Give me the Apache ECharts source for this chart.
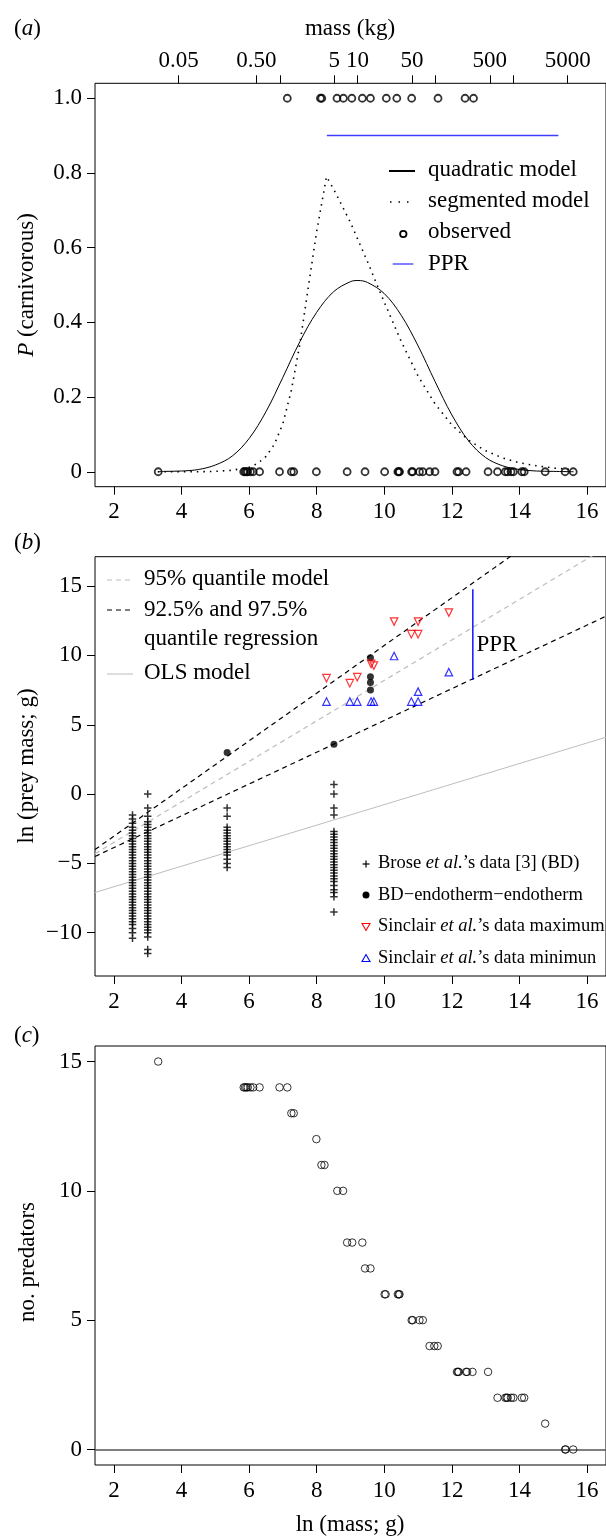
<!DOCTYPE html>
<html>
<head>
<meta charset="utf-8">
<script src="https://cdn.jsdelivr.net/npm/echarts@6/dist/echarts.min.js"></script>
<style>
html, body { margin: 0; padding: 0; background: #fff; }
#chart { width: 606px; height: 1537px; }
</style>
</head>
<body>
<div id="chart"></div>
<script>
// ---------- data ----------
const lnMassTicks = [2, 4, 6, 8, 10, 12, 14, 16];
const massTicksKg = [0.05, 0.5, 1, 5, 10, 50, 100, 500, 1000, 5000];
const massTickLabels = ['0.05', '0.50', '', '5', '10', '50', '', '500', '', '5000'];

// panel (a)
const quadX = [3.3, 3.5, 4.0, 4.5, 5.0, 5.5, 6.0, 6.5, 7.0, 7.5, 8.0, 8.5, 9.0, 9.22, 9.5, 10.0, 10.5, 11.0, 11.5, 12.0, 12.5, 13.0, 13.5, 14.0, 14.5, 15.0, 15.6];
const quadP = [0.000, 0.001, 0.002, 0.006, 0.018, 0.042, 0.089, 0.161, 0.253, 0.348, 0.427, 0.482, 0.509, 0.512, 0.507, 0.477, 0.419, 0.337, 0.242, 0.152, 0.082, 0.038, 0.016, 0.006, 0.002, 0.001, 0.000];
const segX = [3.3, 4.0, 4.5, 5.0, 5.5, 6.0, 6.25, 6.5, 6.75, 7.0, 7.25, 7.5, 7.75, 8.0, 8.29, 8.5, 9.0, 9.5, 10.0, 10.5, 11.0, 11.5, 12.0, 12.5, 13.0, 13.5, 14.0, 14.5, 15.0, 15.6];
const segP = [0.000, 0.000, 0.000, 0.001, 0.004, 0.012, 0.022, 0.041, 0.074, 0.129, 0.218, 0.341, 0.493, 0.644, 0.790, 0.757, 0.667, 0.563, 0.454, 0.349, 0.256, 0.182, 0.125, 0.084, 0.056, 0.037, 0.024, 0.016, 0.010, 0.006];
const carnX = [7.13, 8.11, 8.15, 8.60, 8.79, 9.04, 9.35, 9.59, 10.06, 10.37, 10.81, 11.59, 12.39, 12.64];
const nonCarnX = [3.31, 5.84, 5.88, 5.92, 5.96, 6.04, 6.12, 6.31, 6.90, 7.25, 7.32, 7.99, 8.90, 9.43, 10.01, 10.40, 10.43, 10.45, 10.81, 10.84, 11.04, 11.14, 11.34, 11.50, 12.15, 12.20, 12.42, 13.07, 13.35, 13.58, 13.65, 13.75, 13.82, 14.07, 14.14, 14.76, 15.35, 15.59];
const pprAX = [8.30, 15.15];
const pprAY = [0.9, 0.9];

// panel (b)
const broseX = [2.55, 3.0, 5.35, 8.51];
const broseY1 = [-1.5, -1.8, -2.1, -2.4, -2.6, -2.8, -3.0, -3.2, -3.4, -3.6, -3.8, -4.0, -4.2, -4.4, -4.6, -4.8, -5.0, -5.2, -5.4, -5.6, -5.8, -6.0, -6.2, -6.4, -6.6, -6.8, -7.0, -7.2, -7.4, -7.6, -7.8, -8.0, -8.2, -8.4, -8.6, -8.8, -9.0, -9.2, -9.4, -9.7, -10.0, -10.4];
const broseY2 = [0.0, -1.0, -1.6, -2.0, -2.2, -2.4, -2.6, -2.8, -3.0, -3.2, -3.4, -3.6, -3.8, -4.0, -4.2, -4.4, -4.6, -4.8, -5.0, -5.2, -5.4, -5.6, -5.8, -6.0, -6.2, -6.4, -6.6, -6.8, -7.0, -7.2, -7.4, -7.6, -7.8, -8.0, -8.2, -8.4, -8.6, -8.8, -9.0, -9.2, -9.4, -9.6, -9.8, -10.0, -10.3, -11.2, -11.5];
const broseY3 = [-1.0, -1.6, -2.4, -2.6, -2.8, -3.0, -3.2, -3.4, -3.6, -3.8, -4.0, -4.2, -4.4, -4.7, -5.0, -5.3];
const broseY4 = [0.7, 0.0, -1.0, -1.5, -2.7, -2.9, -3.1, -3.3, -3.5, -3.7, -3.9, -4.1, -4.3, -4.5, -4.7, -4.9, -5.1, -5.3, -5.5, -5.7, -5.9, -6.1, -6.3, -6.6, -6.9, -7.1, -7.4, -8.5];
const endoX = [5.35, 8.51, 9.59, 9.59, 9.59, 9.59];
const endoY = [3.0, 3.6, 9.84, 8.47, 8.04, 7.51];
const sinMaxX = [8.29, 8.98, 9.20, 9.61, 9.69, 10.29, 10.80, 11.0, 11.0, 11.91];
const sinMaxY = [8.36, 8.0, 8.43, 9.39, 9.27, 12.44, 11.53, 11.53, 12.44, 13.09];
const sinMinX = [8.29, 8.98, 9.20, 9.61, 9.69, 10.29, 10.80, 11.0, 11.0, 11.91];
const sinMinY = [6.67, 6.67, 6.67, 6.67, 6.67, 9.96, 6.67, 6.67, 7.39, 8.79];
const lineEndX = [1.44, 16.56];
const q975Y = [-4.0, 22.0];
const q925Y = [-4.5, 12.83];
const q95Y = [-4.3, 17.78];
const olsY = [-7.1, 4.1];
const pprBX = [12.62, 12.62];
const pprBY = [8.23, 14.77];

// panel (c)
const predX = [3.31, 5.84, 5.88, 5.92, 5.96, 6.04, 6.12, 6.31, 6.90, 7.13, 7.25, 7.32, 7.99, 8.14, 8.23, 8.61, 8.78, 8.90, 9.05, 9.35, 9.43, 9.59, 10.01, 10.04, 10.40, 10.43, 10.45, 10.81, 10.84, 11.04, 11.14, 11.34, 11.48, 11.58, 12.15, 12.18, 12.20, 12.42, 12.45, 12.61, 13.07, 13.35, 13.58, 13.62, 13.65, 13.75, 13.82, 14.07, 14.14, 14.76, 15.35, 15.37, 15.59];
const predN = [15, 14, 14, 14, 14, 14, 14, 14, 14, 14, 13, 13, 12, 11, 11, 10, 10, 8, 8, 8, 7, 7, 6, 6, 6, 6, 6, 5, 5, 5, 5, 4, 4, 4, 3, 3, 3, 3, 3, 3, 3, 2, 2, 2, 2, 2, 2, 2, 2, 1, 0, 0, 0];

// ---------- helpers ----------
const FONT = '"Liberation Serif", "DejaVu Serif", serif';
const pairs = (xs, ys) => xs.map((x, i) => [x, ys[i]]);
const column = (x, ys) => ys.map(y => [x, y]);
const massTickPos = massTicksKg.map(m => Math.log(m * 1000));
const PLUS = 'path://M-0.2,-1L0.2,-1L0.2,-0.2L1,-0.2L1,0.2L0.2,0.2L0.2,1L-0.2,1L-0.2,0.2L-1,0.2L-1,-0.2L-0.2,-0.2Z';

const GRID_L = 95, GRID_W = 512;

function xAxisFor(gi) {
    return {
        type: 'value', gridIndex: gi, min: 1.44, max: 16.56,
        axisLine: { show: false, onZero: false }, splitLine: { show: false },
        axisTick: { length: 8, customValues: lnMassTicks, lineStyle: { color: '#000' } },
        axisLabel: { customValues: lnMassTicks, fontFamily: FONT, fontSize: 23, color: '#000', margin: 14 }
    };
}
function yAxisFor(gi, min, max, ticks, fmt) {
    return {
        type: 'value', gridIndex: gi, min: min, max: max,
        axisLine: { show: false, onZero: false }, splitLine: { show: false },
        axisTick: { length: 8, customValues: ticks, lineStyle: { color: '#000' } },
        axisLabel: { customValues: ticks, fontFamily: FONT, fontSize: 23, color: '#000', margin: 13, formatter: fmt }
    };
}
function lineS(xi, yi, data, color, width, type) {
    return {
        type: 'line', xAxisIndex: xi, yAxisIndex: yi, data: data, symbol: 'none', silent: true,
        clip: true, z: 2, lineStyle: { color: color, width: width, type: type || 'solid' }
    };
}
function txt(x, y, text, opts) {
    opts = opts || {};
    return {
        type: 'text', x: x, y: y, rotation: opts.rot || 0, silent: true,
        style: {
            text: text, fill: '#000', font: (opts.size || 23) + 'px ' + FONT,
            align: opts.align || 'left', verticalAlign: 'middle',
            rich: { i: { fontStyle: 'italic', fontSize: opts.size || 23, fontFamily: FONT } }
        }
    };
}
function seg(x1, y1, x2, y2, color, width, dash) {
    return {
        type: 'line', silent: true, shape: { x1: x1, y1: y1, x2: x2, y2: y2 },
        style: { stroke: color, lineWidth: width, lineDash: dash || null }
    };
}

const chart = echarts.init(document.getElementById('chart'));

const option = {
    animation: false,
    backgroundColor: '#fff',
    grid: [
        { left: GRID_L, width: GRID_W, top: 83.3, height: 403.4, show: true, borderColor: '#000', borderWidth: 1 },
        { left: GRID_L, width: GRID_W, top: 556.7, height: 419.3, show: true, borderColor: '#000', borderWidth: 1 },
        { left: GRID_L, width: GRID_W, top: 1046, height: 419, show: true, borderColor: '#000', borderWidth: 1 }
    ],
    xAxis: [
        xAxisFor(0),
        {
            type: 'value', gridIndex: 0, position: 'top', min: 1.44, max: 16.56,
            axisLine: { show: false, onZero: false }, splitLine: { show: false },
            axisTick: { length: 8, customValues: massTickPos, lineStyle: { color: '#000' } },
            axisLabel: {
                customValues: massTickPos, fontFamily: FONT, fontSize: 23, color: '#000', margin: 11,
                formatter: v => {
                    const i = massTickPos.findIndex(p => Math.abs(p - v) < 1e-6);
                    return i >= 0 ? massTickLabels[i] : '';
                }
            }
        },
        xAxisFor(1),
        xAxisFor(2)
    ],
    yAxis: [
        yAxisFor(0, -0.04, 1.04, [0, 0.2, 0.4, 0.6, 0.8, 1.0], v => (v === 0 ? '0' : v.toFixed(1))),
        yAxisFor(1, -13.12, 17.12, [-10, -5, 0, 5, 10, 15], v => (v < 0 ? '\u2212' + Math.abs(v) : String(v))),
        yAxisFor(2, -0.6, 15.6, [0, 5, 10, 15], v => String(v))
    ],
    series: [
        // ---- panel (a)
        Object.assign(lineS(0, 0, pairs(quadX, quadP), '#000', 1), { smooth: 0.35 }),
        lineS(0, 0, pairs(segX, segP), '#000', 1.6, [1.5, 5]),
        lineS(0, 0, pairs(pprAX, pprAY), '#3d3dff', 1.5),
        {
            type: 'scatter', xAxisIndex: 0, yAxisIndex: 0, symbol: 'circle', symbolSize: 7, z: 3, silent: true,
            itemStyle: { color: 'rgba(0,0,0,0)', borderColor: '#000', borderWidth: 1.8 },
            data: nonCarnX.map(x => [x, 0]).concat(carnX.map(x => [x, 1]))
        },
        // ---- panel (b)
        lineS(2, 1, pairs(lineEndX, olsY), '#bdbdbd', 1),
        lineS(2, 1, pairs(lineEndX, q95Y), '#bdbdbd', 1.2, [5, 4]),
        lineS(2, 1, pairs(lineEndX, q975Y), '#000', 1.2, [5, 4]),
        lineS(2, 1, pairs(lineEndX, q925Y), '#000', 1.2, [5, 4]),
        lineS(2, 1, pairs(pprBX, pprBY), '#0000ff', 1.4),
        {
            type: 'scatter', xAxisIndex: 2, yAxisIndex: 1, symbol: PLUS, symbolSize: 7.5, z: 3, silent: true,
            itemStyle: { color: '#000' },
            data: column(broseX[0], broseY1).concat(column(broseX[1], broseY2), column(broseX[2], broseY3), column(broseX[3], broseY4))
        },
        {
            type: 'scatter', xAxisIndex: 2, yAxisIndex: 1, symbol: 'circle', symbolSize: 7, z: 4, silent: true,
            itemStyle: { color: '#000' }, data: pairs(endoX, endoY)
        },
        {
            type: 'scatter', xAxisIndex: 2, yAxisIndex: 1, symbol: 'triangle', symbolSize: 7.5, symbolRotate: 180, z: 4, silent: true,
            itemStyle: { color: 'rgba(0,0,0,0)', borderColor: '#ff0000', borderWidth: 1.2 }, data: pairs(sinMaxX, sinMaxY)
        },
        {
            type: 'scatter', xAxisIndex: 2, yAxisIndex: 1, symbol: 'triangle', symbolSize: 7.5, z: 4, silent: true,
            itemStyle: { color: 'rgba(0,0,0,0)', borderColor: '#0000ff', borderWidth: 1.2 }, data: pairs(sinMinX, sinMinY)
        },
        // ---- panel (c)
        {
            type: 'scatter', xAxisIndex: 3, yAxisIndex: 2, symbol: 'circle', symbolSize: 7.5, z: 3, silent: true,
            itemStyle: { color: 'rgba(0,0,0,0)', borderColor: '#000', borderWidth: 1 },
            data: pairs(predX, predN),
            markLine: {
                silent: true, symbol: 'none', label: { show: false }, z: 2,
                lineStyle: { color: '#555', width: 1.5, type: 'solid' },
                data: [{ yAxis: 0 }]
            }
        }
    ],
    graphic: [
        // panel letters and axis titles
        txt(14, 29, '({i|a})'),
        txt(350, 29, 'mass (kg)', { align: 'center' }),
        txt(27, 285, '{i|P} (carnivorous)', { align: 'center', rot: Math.PI / 2 }),
        txt(14, 543, '({i|b})'),
        txt(27, 766, 'ln (prey mass; g)', { align: 'center', rot: Math.PI / 2 }),
        txt(14, 1036, '({i|c})'),
        txt(28, 1262, 'no. predators', { align: 'center', rot: Math.PI / 2 }),
        txt(350, 1525, 'ln (mass; g)', { align: 'center' }),

        // legend (a)
        seg(389, 171, 415, 171, '#000', 2),
        txt(428, 169.5, 'quadratic model'),
        seg(390, 202, 415, 202, '#000', 1.6, [1.5, 7]),
        txt(428, 201, 'segmented model'),
        { type: 'circle', silent: true, shape: { cx: 403.3, cy: 234, r: 3.2 }, style: { fill: 'none', stroke: '#000', lineWidth: 1.8 } },
        txt(428, 232, 'observed'),
        seg(392.7, 264, 413.3, 264, '#0000ff', 1),
        txt(428, 263.5, 'PPR'),

        // legend (b) lines
        seg(107, 580, 133, 580, '#bdbdbd', 1.2, [5, 4]),
        txt(144, 578.5, '95% quantile model'),
        seg(107, 610, 133, 610, '#000', 1.2, [5, 4]),
        txt(144, 609.5, '92.5% and 97.5%'),
        txt(144, 638.5, 'quantile regression'),
        seg(107, 674, 133, 674, '#bdbdbd', 1),
        txt(144, 673, 'OLS model'),
        txt(476.5, 645, 'PPR'),

        // legend (b) points
        seg(362.5, 864, 369.5, 864, '#000', 1.2),
        seg(366, 860.5, 366, 867.5, '#000', 1.2),
        txt(378, 863.5, 'Brose {i|et al.}\u2019s data [3] (BD)', { size: 18.5 }),
        { type: 'circle', silent: true, shape: { cx: 366, cy: 895, r: 3.5 }, style: { fill: '#000' } },
        txt(378, 895, 'BD\u2212endotherm\u2212endotherm', { size: 18.5 }),
        { type: 'polygon', silent: true, shape: { points: [[362, 923.5], [370, 923.5], [366, 930.5]] }, style: { fill: 'none', stroke: '#ff0000', lineWidth: 1.1 } },
        txt(378, 926.5, 'Sinclair {i|et al.}\u2019s data maximum', { size: 18.5 }),
        { type: 'polygon', silent: true, shape: { points: [[362, 961.5], [370, 961.5], [366, 954.5]] }, style: { fill: 'none', stroke: '#0000ff', lineWidth: 1.1 } },
        txt(378, 958, 'Sinclair {i|et al.}\u2019s data minimun', { size: 18.5 })
    ]
};

chart.setOption(option);
</script>
</body>
</html>
